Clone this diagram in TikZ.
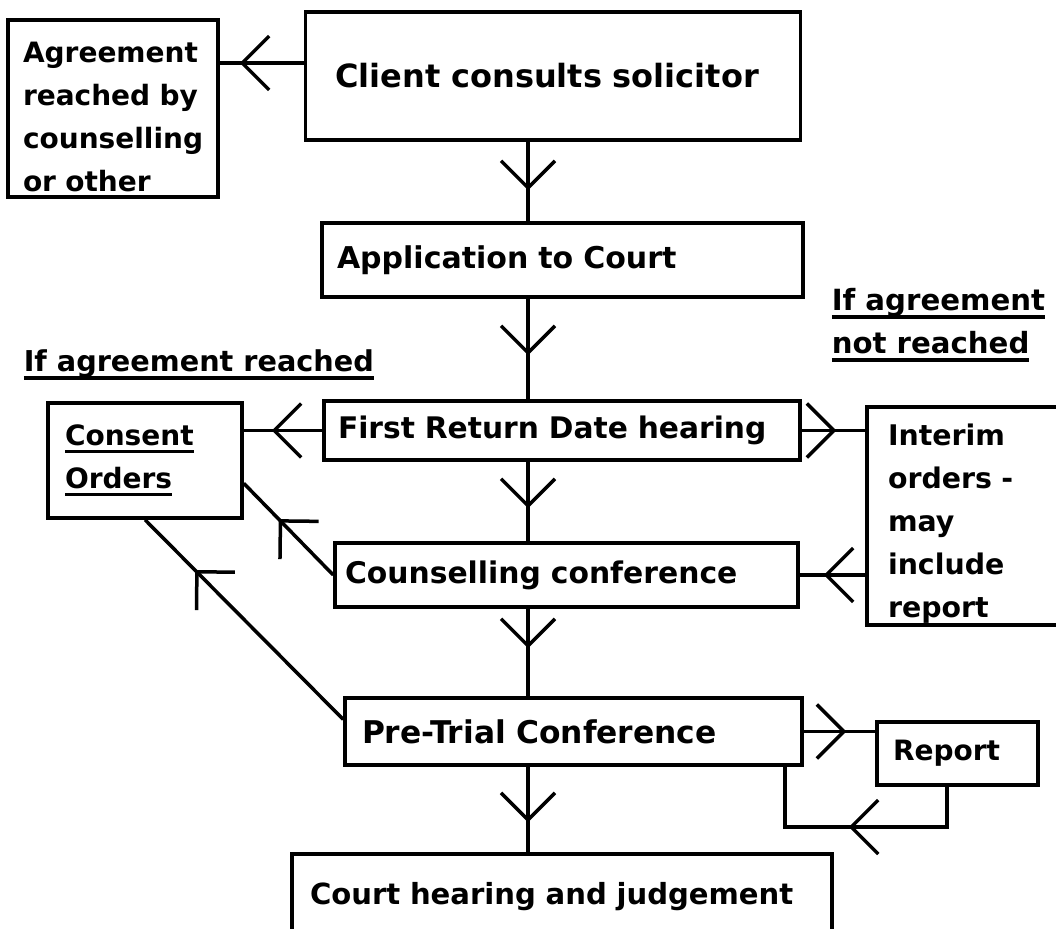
\documentclass[tikz,border=0pt]{standalone}
\usepackage{fontspec}
\setmainfont{DejaVu Sans}
\usetikzlibrary{arrows.meta}
\usetikzlibrary{decorations.markings}
\usetikzlibrary{calc}

\newcommand{\undl}[1]{\leavevmode\setbox0\hbox{#1}\rlap{\raisebox{-8pt}{\rule{\wd0}{3.5pt}}}\box0}

\tikzset{
  stage/.style={draw, inner ysep=0pt, align=left, font=\fontsize{#1}{43}\selectfont\bfseries},
  stage/.default=28,
  note/.style={inner sep=0pt, align=left, font=\fontsize{#1}{43}\selectfont\bfseries},
  note/.default=28,
  vee/.style={postaction={decorate}, decoration={markings,
      mark=at position -#1 with {\arrow{Straight Barb[length=27pt,width=54pt]}}}},
}

\begin{document}
\begin{tikzpicture}[x=1pt, y=-1pt, line width=3.5pt]
\useasboundingbox (0,0) rectangle (1056,928);

\node[stage, inner xsep=15pt, text width=180pt, minimum height=177pt, text height=38pt] (agree) at (113,108.5) {Agreement\\reached by\\counselling\\or other};
\node[stage=32, inner xsep=30pt, text width=435pt, minimum height=128pt] (client) at (553,76) {Client consults solicitor};
\node[stage=30, inner xsep=15pt, text width=451pt, minimum height=74pt] (app) at (562.5,260) {Application to Court};
\node[stage=29.7, inner xsep=14pt, text width=448pt, minimum height=59pt] (first) at (562,430.5) {First Return Date hearing};
\node[stage, inner xsep=17pt, text width=160pt, minimum height=115pt] (consent) at (145,460.5) {\undl{Consent}\\\undl{Orders}\par\vspace*{14pt}};
\node[stage=28.4, inner xsep=21pt, text width=153pt, minimum height=218pt, text height=37pt] (interim) at (964.5,516) {Interim\\orders -\\may\\include\\report};
\node[stage=29.8, inner xsep=10pt, text width=443pt, minimum height=64pt] (couns) at (566.5,575) {Counselling conference};
\node[stage=31.3, inner xsep=17pt, text width=423pt, minimum height=67pt] (pretrial) at (573.5,731.5) {Pre-Trial Conference};
\node[stage, inner xsep=16pt, text width=129pt, minimum height=63pt] (report) at (957.5,753.5) {Report};
\node[stage=29.1, inner xsep=18pt, text width=504pt, minimum height=86pt] (court) at (562,897) {Court hearing and judgement};

\node[note=28.7, anchor=west] (yes) at (22,365) {\undl{If agreement reached}};
\node[note=29.2, anchor=west] (no) at (830,325) {\undl{If agreement}\\\undl{not reached}};

% connectors
\coordinate (spine) at (528,0);
\coordinate (top) at (0,63);
\coordinate (loopr) at (947,827);
\coordinate (loopl) at (785,827);

\draw[vee=20pt] (client.west |- top) -- (agree.east |- top);
\draw[vee=31pt] (client.south -| spine) -- (app.north -| spine);
\draw[vee=44pt] (app.south -| spine) -- (first.north -| spine);
\draw[vee=28pt] (first.west) -- (consent.east |- first.west);
\draw[vee=29pt] (first.east) -- (interim.west |- first.east);
\draw[vee=33pt] (first.south -| spine) -- (couns.north -| spine);
\draw[vee=24pt] (interim.west |- couns.east) -- (couns.east);
\draw[vee=50pt] (couns.west) -- (consent.-13);
\draw[vee=48pt] (couns.south -| spine) -- (pretrial.north -| spine);
\draw[vee=71pt] (pretrial.177) -- (consent.south);
\draw[vee=29pt] (pretrial.east) -- (report.west |- pretrial.east);
\draw[vee=30pt] (pretrial.south -| spine) -- (court.north -| spine);
\draw[vee=124pt] (report.south -| loopr) -- (loopr) -- (loopl) -- (pretrial.south -| loopl);

\end{tikzpicture}
\end{document}
